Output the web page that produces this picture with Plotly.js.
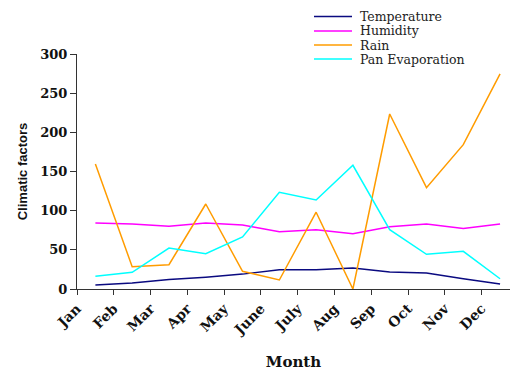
<!DOCTYPE html>
<html>
<head>
<meta charset="utf-8">
<script src="https://cdn.plot.ly/plotly-3.0.1.min.js"></script>
<style>
  html, body { margin: 0; padding: 0; background: #fff; overflow: hidden; }
  #chart { width: 510px; height: 371px; }
</style>
</head>
<body>
<div id="chart"></div>
<script>
// Monthly climatic factors
const months = ['Jan', 'Feb', 'Mar', 'Apr', 'May', 'June', 'July', 'Aug', 'Sep', 'Oct', 'Nov', 'Dec'];
const temperature = [5, 7.7, 12, 15, 19, 24.7, 24.7, 26.8, 21.7, 20.4, 13, 6.4];
const humidity = [84.3, 83, 80, 84.3, 81.7, 73, 75.7, 70.6, 79.6, 83, 77.4, 83];
const rain = [159.6, 28.5, 31, 108.5, 22.6, 11.5, 98, 0, 223.4, 129.4, 184.3, 274.5];
const panEvaporation = [16.2, 21.3, 52.3, 45, 66.4, 123.4, 113.6, 157.9, 75.7, 44.3, 48.1, 13.1];

const seriesNames = ['Temperature', 'Humidity', 'Rain', 'Pan Evaporation'];
const seriesValues = [temperature, humidity, rain, panEvaporation];
const seriesColors = ['#0a0a80', '#ff00ff', '#ff9c00', '#00ffff'];
const yTicks = [0, 50, 100, 150, 200, 250, 300];

const SERIF = '"DejaVu Serif", "Liberation Serif", serif';
const SANS = '"Liberation Sans", Arial, sans-serif';

// Plot area in pixels
const W = 510, H = 371;
const M = { l: 77, r: 0, t: 54, b: 82 };
const plotW = W - M.l - M.r;
const plotH = H - M.t - M.b;
const px2paperX = px => (px - M.l) / plotW;
const px2paperY = py => (H - M.b - py) / plotH;

// Categories sit between the tick marks; ticks mark category boundaries
const xPos = months.map((m, i) => i);
const tickPos = months.map((m, i) => i - 0.5);

const traces = seriesNames.map((name, k) => ({
  type: 'scatter',
  mode: 'lines',
  name: name,
  x: xPos,
  y: seriesValues[k],
  line: { color: seriesColors[k], width: 1.5 },
  cliponaxis: false,
  hoverinfo: 'skip'
}));

// Compact legend in the top-right corner
const legendRows = [16.5, 31, 45, 59];
const shapes = seriesNames.map((name, k) => ({
  type: 'line', xref: 'paper', yref: 'paper',
  x0: px2paperX(314), x1: px2paperX(352),
  y0: px2paperY(legendRows[k]), y1: px2paperY(legendRows[k]),
  line: { color: seriesColors[k], width: 1.5 }
}));
const annotations = seriesNames.map((name, k) => ({
  xref: 'paper', yref: 'paper',
  x: px2paperX(358), y: px2paperY(legendRows[k]),
  xanchor: 'left', yanchor: 'middle',
  text: name, showarrow: false,
  font: { family: SERIF, size: 12.5, color: '#222' }
}));

const layout = {
  width: W, height: H,
  margin: M,
  paper_bgcolor: '#fff',
  plot_bgcolor: '#fff',
  showlegend: false,
  xaxis: {
    range: [-0.5, 11.27],
    tickmode: 'array',
    tickvals: tickPos,
    ticktext: months,
    tickangle: -45,
    ticks: 'outside', ticklen: 5, tickcolor: '#333', tickwidth: 1,
    showline: true, linecolor: '#333', linewidth: 1,
    showgrid: false, zeroline: false,
    tickfont: { family: SERIF, size: 14, weight: 'bold', color: '#111' },
    title: { text: 'Month', font: { family: SERIF, size: 15, weight: 'bold', color: '#111' }, standoff: 24 }
  },
  yaxis: {
    range: [0, 300],
    tickmode: 'array',
    tickvals: yTicks,
    ticks: 'outside', ticklen: 6, tickcolor: '#333', tickwidth: 1,
    showline: true, linecolor: '#333', linewidth: 1,
    showgrid: false, zeroline: false,
    tickfont: { family: SERIF, size: 13, weight: 'bold', color: '#111' },
    title: { text: 'Climatic factors', font: { family: SANS, size: 13, weight: 'bold', color: '#111' }, standoff: 9 }
  },
  shapes: shapes,
  annotations: annotations
};

Plotly.newPlot('chart', traces, layout, { staticPlot: true, displayModeBar: false });
</script>
</body>
</html>
